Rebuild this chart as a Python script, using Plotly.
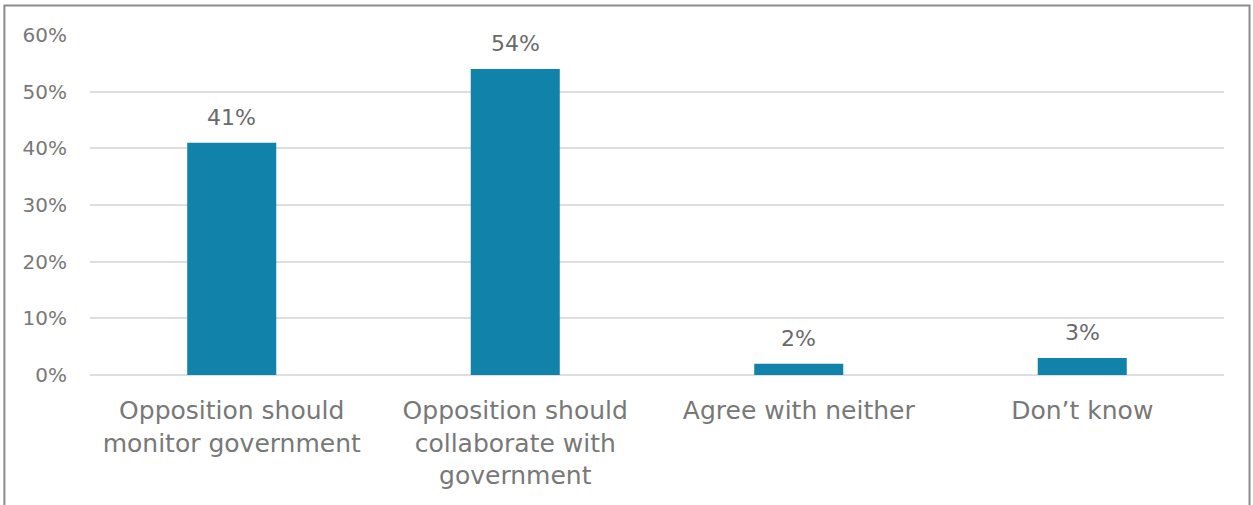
import plotly.graph_objects as go

categories = ["Opposition should<br>monitor government",
              "Opposition should<br>collaborate with<br>government",
              "Agree with neither",
              "Don\u2019t know"]
values = [41, 54, 2, 3]
value_labels = ["41%", "54%", "2%", "3%"]
tick_vals = [0, 10, 20, 30, 40, 50, 60]
tick_text = ["0%", "10%", "20%", "30%", "40%", "50%", "60%"]

FONT = "'DejaVu Sans', sans-serif"

fig = go.Figure()
fig.add_trace(go.Bar(
    x=categories, y=values,
    marker=dict(color="#1183aa", line=dict(width=0)),
    hoverinfo="skip",
))

for c, v, t in zip(categories, values, value_labels):
    fig.add_annotation(x=c, y=v, text=t, showarrow=False, yanchor="bottom",
                       yshift=11, font=dict(family=FONT, size=22, color="#6a6a6a"))

fig.update_layout(
    width=1253, height=505,
    margin=dict(l=90, r=29, t=35, b=130),
    paper_bgcolor="white", plot_bgcolor="rgba(0,0,0,0)",
    showlegend=False,
    bargap=0.686,
    font=dict(family=FONT, color="#6b6b6b"),
    xaxis=dict(showgrid=False, showline=False, zeroline=False,
               tickfont=dict(family=FONT, size=25, color="#787878"),
               ticks="", ticklabelstandoff=18),
    yaxis=dict(range=[0, 60], tickvals=tick_vals, ticktext=tick_text,
               showgrid=True, gridcolor="#dedede", gridwidth=1.5,
               zeroline=True, zerolinecolor="#dedede", zerolinewidth=1.5,
               showline=False, ticks="",
               tickfont=dict(family=FONT, size=20, color="#787878"),
               ticklabelstandoff=22),
    shapes=[dict(type="rect", xref="paper", yref="paper",
                 x0=-0.0755, x1=1.0225, y0=-0.385, y1=1.087,
                 line=dict(color="#8c8c8c", width=2), fillcolor="rgba(0,0,0,0)",
                 layer="below")],
)

fig.write_html("out.html", config={"displayModeBar": False},
               post_script="document.body.style.margin='0';document.body.style.overflow='hidden';")
